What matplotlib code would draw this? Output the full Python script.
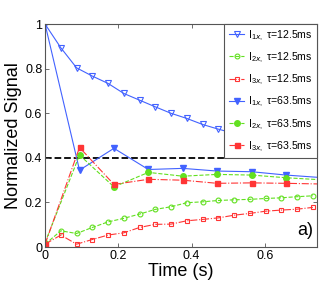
import matplotlib
matplotlib.use("Agg")
import matplotlib.pyplot as plt

plt.rcParams["font.family"] = ["Liberation Sans", "DejaVu Sans"]
plt.rcParams["mathtext.fontset"] = "custom"
plt.rcParams["mathtext.rm"] = "Liberation Sans"

# ── data ──
t_fast = [0.000, 0.043, 0.086, 0.129, 0.172, 0.215, 0.258, 0.301, 0.344,
          0.387, 0.430, 0.473, 0.516, 0.559, 0.602, 0.645, 0.688, 0.731]
i1_fast = [1.000, 0.894, 0.804, 0.767, 0.734, 0.689, 0.659, 0.629, 0.600,
           0.577, 0.550, 0.529, 0.510, 0.495, 0.480, 0.468, 0.458, 0.450]
i2_fast = [0.013, 0.073, 0.061, 0.088, 0.113, 0.129, 0.148, 0.169, 0.181,
           0.199, 0.203, 0.209, 0.212, 0.214, 0.218, 0.221, 0.226, 0.230]
i3_fast = [0.013, 0.054, 0.013, 0.034, 0.054, 0.064, 0.088, 0.102, 0.103,
           0.118, 0.124, 0.131, 0.143, 0.151, 0.161, 0.166, 0.170, 0.178]

t_slow = [0.000, 0.094, 0.188, 0.282, 0.376, 0.470, 0.564, 0.658, 0.752]
i1_slow = [1.000, 0.345, 0.443, 0.348, 0.353, 0.341, 0.338, 0.323, 0.312]
i2_slow = [0.020, 0.413, 0.270, 0.335, 0.318, 0.326, 0.323, 0.311, 0.302]
i3_slow = [0.013, 0.447, 0.281, 0.304, 0.300, 0.286, 0.288, 0.286, 0.283]

threshold = 0.4

BLUE = "#4262ff"
GREEN = "#62e020"
RED = "#ff3535"

fig = plt.figure(figsize=(3.22, 2.84), dpi=100)
ax = fig.add_axes([0.140, 0.130, 0.844, 0.785])

ax.axhline(threshold, color="black", ls="--", lw=1.3, zorder=1)

lw = 0.8
ax.plot(t_fast, i1_fast, "-", color=BLUE, lw=lw, marker="v", ms=3.8,
        mfc="none", mec=BLUE, mew=0.8, label=r"I$_{1x,}$ τ=12.5ms")
ax.plot(t_fast, i2_fast, "--", color=GREEN, lw=lw, marker="o", ms=3.5,
        mfc="none", mec=GREEN, mew=0.8, label=r"I$_{2x,}$ τ=12.5ms")
ax.plot(t_fast, i3_fast, "-.", color=RED, lw=lw, marker="s", ms=3.0,
        mfc="none", mec=RED, mew=0.8, label=r"I$_{3x,}$ τ=12.5ms")
ax.plot(t_slow, i1_slow, "-", color=BLUE, lw=lw, marker="v", ms=4.2,
        mfc=BLUE, mec=BLUE, label=r"I$_{1x,}$ τ=63.5ms")
ax.plot(t_slow, i2_slow, "--", color=GREEN, lw=lw, marker="o", ms=4.0,
        mfc=GREEN, mec=GREEN, label=r"I$_{2x,}$ τ=63.5ms")
ax.plot(t_slow, i3_slow, "-.", color=RED, lw=lw, marker="s", ms=3.6,
        mfc=RED, mec=RED, label=r"I$_{3x,}$ τ=63.5ms")

ax.set_xlim(0, 0.742)
ax.set_ylim(0, 1)
ax.set_xticks([0, 0.2, 0.4, 0.6])
ax.set_xticklabels(["0", "0.2", "0.4", "0.6"])
ax.set_yticks([0, 0.2, 0.4, 0.6, 0.8, 1])
ax.set_yticklabels(["0", "0.2", "0.4", "0.6", "0.8", "1"])
ax.tick_params(direction="in", top=True, right=True, labelsize=9,
               length=3, width=0.6, color="#555555", pad=2)
for s in ax.spines.values():
    s.set_color("#555555")
    s.set_linewidth(0.8)

ax.set_xlabel("Time (s)", fontsize=13, labelpad=1)
ax.set_ylabel("Normalized Signal", fontsize=13, labelpad=2)

leg = ax.legend(loc="upper right", fontsize=7.6, frameon=True, fancybox=False,
                borderaxespad=0, handlelength=1.5, handletextpad=0.35,
                labelspacing=0.75, borderpad=0.4)
leg.get_frame().set_edgecolor("#555555")
leg.get_frame().set_linewidth(0.8)
leg.get_frame().set_alpha(1)

ax.text(0.985, 0.035, "a)", transform=ax.transAxes, ha="right", va="bottom",
        fontsize=13)

fig.savefig("out.png", dpi=100)
